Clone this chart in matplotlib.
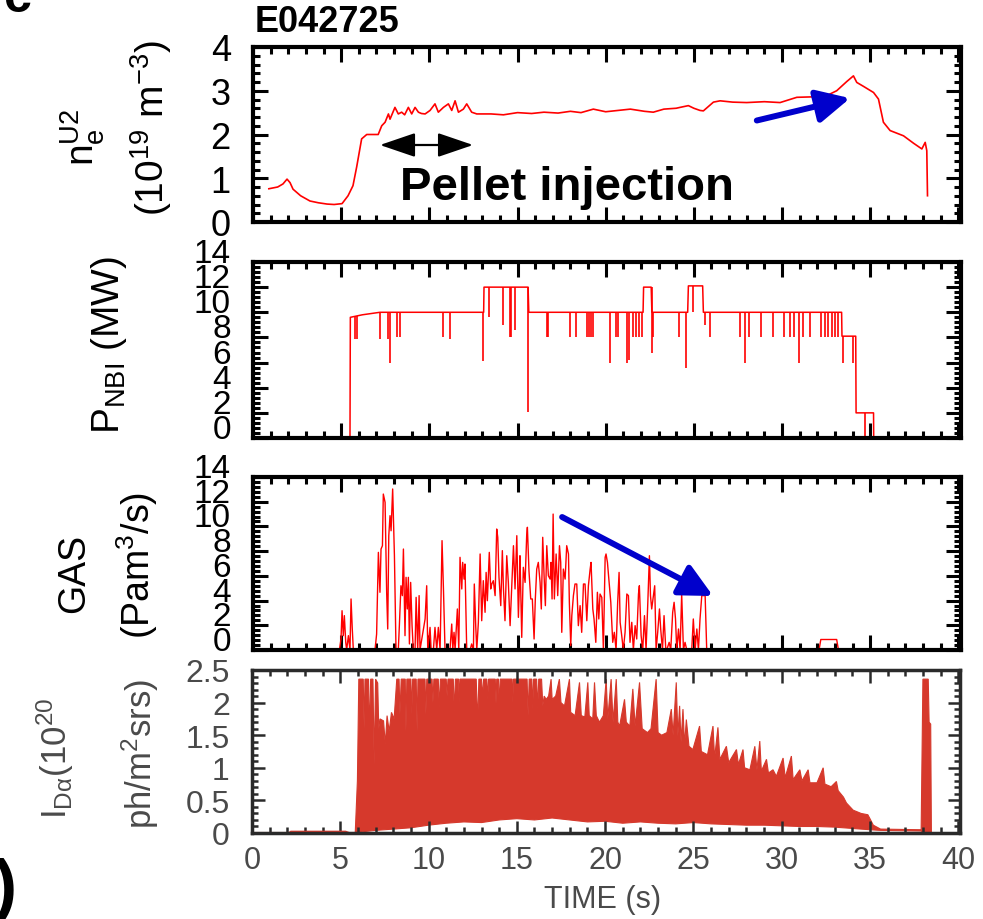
import numpy as np
import matplotlib.pyplot as plt
from matplotlib.ticker import MultipleLocator, AutoMinorLocator

plt.rcParams['font.family'] = ['Liberation Sans', 'DejaVu Sans']
plt.rcParams['mathtext.fontset'] = 'custom'
plt.rcParams['mathtext.rm'] = 'Liberation Sans'
plt.rcParams['mathtext.it'] = 'Liberation Sans:italic'
plt.rcParams['mathtext.bf'] = 'Liberation Sans:bold'
plt.rcParams['mathtext.default'] = 'regular'

############ data (time in s) ############
shot = 'E042725'

# line-averaged density, 1e19 m^-3
ne_points = [(0.9, 0.76), (1.4, 0.8), (1.7, 0.87), (1.93, 0.98), (2.1, 0.9), (2.27, 0.75),
             (2.7, 0.6), (3.23, 0.48), (3.7, 0.44), (4.2, 0.41), (4.6, 0.40), (5.05, 0.42),
             (5.39, 0.6), (5.67, 0.83), (5.88, 1.26), (6.16, 1.9), (6.45, 2.0), (7.1, 2.0),
             (7.3, 2.2), (7.49, 2.28), (7.68, 2.47), (7.77, 2.35), (8.05, 2.62), (8.24, 2.47),
             (8.43, 2.51), (8.6, 2.45), (8.81, 2.62), (9.0, 2.47), (9.19, 2.62), (9.38, 2.51),
             (9.55, 2.48), (9.76, 2.47), (10.04, 2.55), (10.32, 2.70), (10.51, 2.51), (10.8, 2.62),
             (11.08, 2.70), (11.27, 2.55), (11.46, 2.77), (11.65, 2.51), (11.93, 2.58), (12.12, 2.70),
             (12.4, 2.51), (12.69, 2.47), (13.5, 2.47), (14.2, 2.45), (15.0, 2.5), (15.8, 2.48),
             (16.5, 2.51), (17.3, 2.49), (18.0, 2.53), (18.6, 2.5), (19.3, 2.58), (20.0, 2.52),
             (20.7, 2.55), (21.4, 2.58), (22.2, 2.53), (22.7, 2.51), (23.3, 2.58), (24.0, 2.6),
             (24.22, 2.62), (24.69, 2.66), (25.0, 2.6), (25.35, 2.55), (25.54, 2.54), (26.11, 2.74),
             (26.49, 2.77), (27.2, 2.74), (28.0, 2.73), (29.0, 2.75), (29.89, 2.73), (30.84, 2.85),
             (31.7, 2.86), (32.54, 2.89), (33.1, 3.0), (33.67, 3.21), (34.05, 3.34), (34.24, 3.19),
             (34.62, 3.1), (35.19, 2.96), (35.47, 2.81), (35.75, 2.28), (36.13, 2.09), (36.89, 1.97),
             (37.46, 1.8), (37.93, 1.67), (38.12, 1.82), (38.21, 1.63), (38.25, 0.6)]

# NBI power, MW: base steps and the short drop-outs (time, bottom, top)
nbi_points = [(0, 0), (5.5, 0), (5.52, 9.6), (6.2, 9.8), (7.2, 10.0), (13.08, 10.0), (13.1, 12.0),
              (15.6, 12.0), (15.64, 10.0), (22.12, 10.0), (22.15, 12.0), (22.58, 12.0), (22.62, 10.0),
              (24.65, 10.0), (24.69, 12.1), (25.5, 12.1), (25.54, 10.0), (33.38, 10.0), (33.4, 8.1),
              (34.18, 8.1), (34.2, 2.0), (35.19, 2.0), (35.2, 0), (40.5, 0)]
nbi_dips = [(5.79, 7.9, 9.7), (5.88, 7.9, 9.7), (7.2, 7.9, 10), (7.67, 7.9, 10), (7.77, 6.0, 10),
            (8.15, 8.0, 10), (8.34, 8.0, 10), (10.8, 8.0, 10), (11.2, 7.9, 10), (13.03, 6.1, 10),
            (13.41, 9.6, 12), (14.16, 9.0, 12), (14.58, 8.0, 12), (14.63, 8.0, 12), (14.86, 8.6, 12),
            (15.62, 2.1, 12), (16.67, 8.0, 10), (16.75, 8.0, 10), (17.98, 8.0, 10), (18.32, 8.0, 10),
            (18.96, 8.0, 10), (19.05, 8.0, 10), (19.15, 8.0, 10), (19.3, 8.0, 10), (20.25, 6.0, 10),
            (20.6, 8.0, 10), (20.7, 8.0, 10), (21.2, 6.0, 10), (21.35, 6.2, 10), (21.53, 8.0, 10),
            (21.72, 8.0, 10), (21.91, 8.0, 10), (22.05, 8.0, 10), (22.61, 6.8, 12), (22.71, 8.0, 10),
            (24.18, 8.0, 10), (24.56, 5.6, 10), (24.98, 10.0, 12.1), (25.64, 9.0, 10), (25.92, 8.0, 10),
            (27.59, 8.0, 10), (27.91, 6.0, 10), (28.15, 8.0, 10), (28.8, 8.0, 10), (29.51, 8.0, 10),
            (30.12, 8.0, 10), (30.46, 8.0, 10), (30.69, 8.0, 10), (30.99, 6.0, 10), (31.18, 8.0, 10),
            (31.59, 8.0, 10), (32.2, 8.0, 10), (32.44, 8.0, 10), (32.63, 8.0, 10), (32.82, 8.0, 10),
            (33.01, 8.0, 10), (33.2, 8.0, 10), (33.45, 6.0, 8.1), (34.01, 6.0, 8.1), (34.71, 0.0, 2.0)]

# gas puff rate, Pa m^3/s
gas_points = [(4.9, 0), (4.99, 0.89), (5.05, 3.18), (5.12, 1.16), (5.18, 2.78), (5.26, 0.62), (5.31, 0),
              (5.41, 1.16), (5.5, 0), (5.56, 4.13), (5.63, 1.7), (5.69, 0), (6.92, 0), (7.01, 1.29),
              (7.11, 7.9), (7.2, 4.67), (7.26, 8.17), (7.34, 8.44), (7.39, 12.62), (7.49, 11.95),
              (7.58, 4.67), (7.64, 1.7), (7.7, 9.25), (7.77, 10.87), (7.83, 9.65), (7.92, 13.03),
              (8.02, 7.63), (8.11, 0), (8.24, 0), (8.3, 1.97), (8.39, 5.2), (8.47, 4.4), (8.53, 8.17),
              (8.62, 1.16), (8.68, 5.88), (8.75, 3.32), (8.81, 5.88), (8.87, 0.49), (8.94, 5.47),
              (9.02, 1.97), (9.09, 0), (9.19, 0), (9.25, 4.26), (9.34, 0), (9.42, 4.4), (9.47, 0),
              (9.76, 2.51), (9.85, 5.2), (9.91, 0), (10.04, 1.83), (10.1, 0), (10.23, 0), (10.32, 1.83),
              (10.42, 0), (10.51, 1.83), (10.61, 0), (10.72, 8.85), (10.8, 4.94), (10.89, 0), (11.17, 0),
              (11.27, 2.1), (11.33, 0), (11.4, 1.43), (11.46, 0), (11.59, 3.32), (11.67, 0), (11.74, 7.5),
              (11.84, 4.94), (11.89, 7.09), (11.97, 5.74), (12.02, 6.96), (12.12, 0), (12.31, 0),
              (12.4, 0.49), (12.5, 0), (12.55, 5.34), (12.63, 1.97), (12.69, 0), (12.78, 2.24),
              (12.88, 7.77), (12.97, 2.37), (13.06, 5.61), (13.16, 3.05), (13.22, 6.28), (13.29, 3.99),
              (13.4, 7.9), (13.48, 4.94), (13.54, 5.34), (13.63, 5.61), (13.73, 4.4), (13.82, 9.79),
              (13.88, 9.12), (13.95, 5.88), (14.05, 3.59), (14.14, 8.04), (14.2, 5.07), (14.29, 2.37),
              (14.39, 7.63), (14.48, 5.47), (14.58, 1.97), (14.67, 4.94), (14.77, 8.44), (14.86, 4.94),
              (14.96, 9.25), (15.05, 2.64), (15.11, 5.47), (15.14, 7.63), (15.24, 1.02), (15.33, 6.69),
              (15.43, 5.47), (15.52, 9.25), (15.56, 9.93), (15.65, 6.4), (15.75, 4.13), (15.84, 4.13),
              (15.94, 0.89), (16.01, 4.13), (16.09, 6.55), (16.18, 7.09), (16.28, 5.47), (16.35, 3.32),
              (16.43, 9.12), (16.51, 5.88), (16.58, 3.59), (16.66, 8.44), (16.75, 6.01), (16.85, 5.74),
              (16.9, 7.09), (16.96, 4.13), (17.02, 11.0), (17.09, 4.13), (17.19, 7.77), (17.28, 4.4),
              (17.38, 8.44), (17.45, 7.09), (17.51, 1.43), (17.6, 6.55), (17.7, 5.74), (17.79, 8.44),
              (17.89, 7.77), (17.94, 3.86), (18.02, 0.35), (18.08, 2.78), (18.17, 4.4), (18.26, 5.34),
              (18.36, 5.34), (18.45, 1.97), (18.55, 3.59), (18.64, 1.43), (18.74, 5.34), (18.83, 5.34),
              (18.93, 2.37), (19.02, 5.2), (19.12, 6.55), (19.17, 7.09), (19.27, 3.32), (19.34, 2.51),
              (19.44, 0.62), (19.53, 4.67), (19.61, 2.51), (19.68, 4.53), (19.78, 4.26), (19.87, 0),
              (19.97, 7.5), (20.02, 7.77), (20.1, 7.09), (20.21, 5.2), (20.29, 3.86), (20.4, 0.62),
              (20.49, 1.43), (20.59, 0), (20.68, 3.86), (20.76, 6.28), (20.82, 2.24), (20.91, 1.16),
              (21.0, 0), (21.1, 1.43), (21.2, 4.53), (21.29, 4.4), (21.38, 0.62), (21.48, 2.24),
              (21.57, 0), (21.67, 1.97), (21.76, 0.89), (21.86, 4.53), (21.91, 5.2), (22.01, 1.16),
              (22.1, 0), (22.2, 2.78), (22.29, 0), (22.39, 3.86), (22.48, 7.63), (22.54, 4.4),
              (22.61, 3.32), (22.71, 4.4), (22.78, 5.2), (22.86, 0), (22.95, 1.43), (23.05, 3.32),
              (23.12, 1.7), (23.22, 0), (23.31, 2.78), (23.41, 0), (23.46, 0), (23.6, 0.62), (23.69, 0),
              (23.8, 3.05), (23.88, 3.86), (23.96, 2.51), (24.03, 0), (24.13, 1.7), (24.22, 0),
              (24.31, 4.53), (24.41, 0), (24.5, 0.62), (24.6, 0), (24.69, 0), (24.88, 0), (24.97, 2.51),
              (25.07, 0), (25.17, 1.7), (25.26, 0), (25.35, 2.51), (25.45, 4.4), (25.54, 4.4),
              (25.64, 4.4), (25.73, 0), (26.02, 0)]
gas_late_points = [(32.1, 0), (32.2, 0.85), (33.1, 0.85), (33.2, 0)]

# D-alpha, 1e20 ph/m^2 sr s: spiky top edge and baseline of the band
da_top_points = [(5.85, 0.02), (5.97, 0.8), (6.05, 2.36), (6.3, 2.36), (6.35, 1.6), (6.4, 2.36),
                 (6.6, 2.36), (6.65, 1.5), (6.72, 2.36), (6.85, 2.36), (6.92, 1.05), (7.0, 2.36),
                 (7.12, 2.3), (7.18, 1.6), (7.25, 1.75), (7.45, 1.72), (7.55, 1.36), (7.65, 1.8),
                 (7.77, 1.56), (7.9, 1.85), (8.05, 1.75), (8.2, 2.36), (8.33, 2.36), (8.38, 1.82),
                 (8.45, 2.36), (8.68, 2.36), (8.72, 1.56), (8.77, 2.36), (9.0, 2.36), (9.05, 1.82),
                 (9.1, 2.36), (9.3, 2.36), (9.35, 1.56), (9.4, 2.36), (9.8, 2.36), (9.85, 1.82),
                 (9.9, 2.36), (10.2, 2.36), (10.25, 2.0), (10.3, 2.36), (10.55, 2.36), (10.61, 1.92),
                 (10.67, 2.36), (11.0, 2.36), (11.05, 2.1), (11.1, 2.36), (11.4, 2.36), (11.46, 1.85),
                 (11.52, 2.36), (11.7, 2.36), (11.74, 2.0), (11.78, 2.36), (12.7, 2.36), (12.78, 1.69),
                 (12.85, 2.36), (13.0, 2.36), (13.06, 2.08), (13.12, 2.36), (13.3, 2.36), (13.35, 2.05),
                 (13.4, 2.36), (13.78, 2.36), (13.82, 1.98), (13.86, 2.36), (13.96, 2.36), (14.01, 1.95),
                 (14.06, 2.36), (14.73, 2.36), (14.77, 2.0), (14.81, 2.36), (15.58, 2.36), (15.64, 1.80),
                 (15.7, 2.36), (15.85, 2.36), (15.9, 1.9), (15.95, 2.36), (16.12, 2.36), (16.18, 1.9),
                 (16.24, 2.36), (16.4, 2.36), (16.47, 1.95), (16.55, 2.1), (16.66, 2.05), (16.8, 2.1),
                 (16.94, 2.36), (17.0, 2.05), (17.2, 2.1), (17.41, 2.36), (17.5, 2.0), (17.7, 1.95),
                 (17.98, 2.36), (18.05, 1.85), (18.3, 1.8), (18.55, 2.31), (18.65, 1.8), (18.85, 1.78),
                 (19.02, 2.31), (19.1, 1.8), (19.3, 1.75), (19.4, 2.31), (19.5, 1.8), (19.68, 1.7),
                 (19.9, 1.8), (20.06, 2.36), (20.15, 1.75), (20.34, 2.36), (20.45, 1.7), (20.63, 2.36),
                 (20.72, 1.7), (20.82, 1.64), (21.1, 2.05), (21.2, 1.7), (21.4, 1.64), (21.57, 2.21),
                 (21.7, 1.64), (21.95, 2.31), (22.1, 1.6), (22.4, 1.54), (22.6, 1.6), (22.89, 2.36),
                 (23.0, 1.54), (23.2, 1.5), (23.5, 1.54), (23.75, 1.9), (23.85, 1.5), (24.03, 2.31),
                 (24.12, 1.49), (24.22, 1.95), (24.3, 1.4), (24.41, 1.9), (24.5, 1.35), (24.6, 1.74),
                 (24.75, 1.33), (24.97, 1.28), (25.35, 1.64), (25.45, 1.25), (25.8, 1.2), (26.11, 1.64),
                 (26.2, 1.15), (26.39, 1.62), (26.5, 1.13), (26.87, 1.33), (27.0, 1.08), (27.44, 1.28),
                 (27.55, 1.05), (27.81, 1.28), (27.9, 1.0), (28.2, 0.97), (28.48, 1.33), (28.6, 0.97),
                 (28.76, 1.41), (28.85, 0.95), (29.14, 1.13), (29.25, 0.92), (29.51, 0.97), (29.7, 0.87),
                 (30.08, 1.15), (30.2, 0.85), (30.55, 1.18), (30.65, 0.82), (31.03, 0.97), (31.15, 0.80),
                 (31.5, 0.97), (31.6, 0.77), (32.0, 0.77), (32.35, 1.0), (32.45, 0.75), (32.8, 0.71),
                 (33.1, 0.79), (33.2, 0.65), (33.5, 0.55), (33.67, 0.46), (34.05, 0.35), (34.5, 0.30),
                 (34.88, 0.28), (35.0, 0.22), (35.19, 0.12), (35.6, 0.06), (37.9, 0.05), (38.0, 2.36),
                 (38.3, 2.36), (38.35, 1.7), (38.44, 1.67), (38.48, 0.0)]
da_low_points = [(5.85, 0.0), (6.3, 0.02), (7, 0.04), (8, 0.06), (9, 0.08), (10, 0.12), (11, 0.15),
                 (12, 0.17), (13, 0.16), (14, 0.2), (15, 0.22), (16, 0.2), (17, 0.23), (18, 0.2),
                 (19, 0.17), (20, 0.18), (21, 0.15), (22, 0.17), (23, 0.15), (24, 0.14), (25, 0.16),
                 (26, 0.14), (27, 0.13), (28, 0.12), (29, 0.12), (30, 0.11), (31, 0.1), (32, 0.1),
                 (33, 0.09), (34, 0.07), (35, 0.05), (35.6, 0.04), (37.9, 0.03), (38.0, 0.0), (38.48, 0.0)]
da_pre_points = [(0, 0), (2.1, 0), (2.2, 0.02), (5.3, 0.02), (5.5, 0), (5.85, 0)]

ne_ticks = [0, 1, 2, 3, 4]
nbi_ticks = [0, 2, 4, 6, 8, 10, 12, 14]
gas_ticks = [0, 2, 4, 6, 8, 10, 12, 14]
da_ticks = [0, 0.5, 1, 1.5, 2, 2.5]
da_tick_labels = ['0', '0.5', '1', '1.5', '2', '2.5']
time_ticks = [0, 5, 10, 15, 20, 25, 30, 35, 40]
##############################################################

RED = '#ff0000'
DCOL = '#d6392c'
GREY = '#4a4a4a'
BLUE = '#0000cc'

W, H = 983, 920
fig = plt.figure(figsize=(W / 100, H / 100), dpi=100)


def rect(l, t, r, b):
    return [l / W, 1 - b / H, (r - l) / W, (b - t) / H]


ax1 = fig.add_axes(rect(253, 48, 961, 223))
ax2 = fig.add_axes(rect(253, 263, 961, 439))
ax3 = fig.add_axes(rect(253, 478, 961, 651))
ax4 = fig.add_axes(rect(252, 671, 960, 834))


def style(ax, color='black', lw=3.0, tw=2.2, maj=10.5, mnr=5):
    ax.set_xlim(0, 40.15)
    ax.set_xticks(time_ticks)
    ax.xaxis.set_minor_locator(AutoMinorLocator(5))
    ax.yaxis.set_minor_locator(AutoMinorLocator(5))
    ax.tick_params(which='both', direction='in', top=True, right=True, width=tw, color=color,
                   labelcolor=color)
    ax.tick_params(which='major', length=maj, pad=16)
    ax.tick_params(which='minor', length=mnr)
    for s in ax.spines.values():
        s.set_linewidth(lw)
        s.set_edgecolor(color)


# --- density
t, v = np.array(ne_points).T
ax1.plot(t, v, color=RED, lw=1.2)
ax1.set_ylim(0, 4)
ax1.set_yticks(ne_ticks, [str(x) for x in ne_ticks], fontsize=26)
style(ax1)
ax1.tick_params(labelbottom=False)
ax1.annotate('', xy=(12.48, 1.76), xytext=(7.2, 1.76),
             arrowprops=dict(arrowstyle='<|-|>,head_length=2.2,head_width=0.75', mutation_scale=10,
                             lw=1.6, color='black', shrinkA=0, shrinkB=0))
ax1.text(8.34, 0.53, 'Pellet injection', fontsize=34, fontweight='bold', ha='left', va='baseline')
ax1.annotate('', xy=(33.86, 2.83), xytext=(28.57, 2.32),
             arrowprops=dict(arrowstyle='-|>,head_length=2.0,head_width=1.0', mutation_scale=10,
                             lw=4.3, color=BLUE, shrinkA=0, shrinkB=0))

# --- NBI
t, v = np.array(nbi_points).T
ax2.plot(t, v, color=RED, lw=1.1)
dt, dlo, dhi = np.array(nbi_dips).T
ax2.vlines(dt, dlo, dhi, color=RED, lw=1.2)
ax2.set_ylim(0, 14)
ax2.set_yticks(nbi_ticks, [str(x) for x in nbi_ticks], fontsize=24, va='baseline')
style(ax2)
ax2.tick_params(labelbottom=False)

# --- gas
t, v = np.array(gas_points).T
ax3.plot(t, v, color=RED, lw=1.0)
t, v = np.array(gas_late_points).T
ax3.plot(t, v, color=RED, lw=1.0)
ax3.set_ylim(0, 14)
ax3.set_yticks(gas_ticks, [str(x) for x in gas_ticks], fontsize=24, va='baseline')
style(ax3)
ax3.tick_params(labelbottom=False)
ax3.annotate('', xy=(26.09, 4.37), xytext=(17.53, 10.76),
             arrowprops=dict(arrowstyle='-|>,head_length=2.0,head_width=1.0', mutation_scale=10,
                             lw=4.3, color=BLUE, shrinkA=0, shrinkB=0), annotation_clip=False)

# --- D alpha
tt, tv = np.array(da_top_points).T
lt, lv = np.array(da_low_points).T
ax4.fill(np.concatenate([tt, lt[::-1]]), np.concatenate([tv, lv[::-1]]),
         facecolor=DCOL, edgecolor=DCOL, lw=0.8)
t, v = np.array(da_pre_points).T
ax4.plot(t, v, color=DCOL, lw=1.5)
ax4.set_ylim(0, 2.5)
ax4.set_yticks(da_ticks, da_tick_labels, fontsize=23)
style(ax4, color='#2a2a2a', lw=2.5, tw=1.8, maj=9, mnr=4.5)
ax4.set_xlim(0, 40.1)
ax4.tick_params(labelcolor=GREY)
ax4.set_xticks(time_ticks, [str(x) for x in time_ticks], fontsize=22)
ax4.tick_params(axis='x', which='major', pad=9)

# --- labels
fig.text(255 / W, 1 - 23 / H, shot, fontsize=26, fontweight='bold', ha='left', va='center')
fig.text(83 / W, 1 - 137 / H, r'n$_e^{U2}$', rotation=90, ha='center', va='center', fontsize=28)
fig.text(151 / W, 1 - 128 / H, r'(10$^{19}$ m$^{-3}$)', rotation=90, ha='center', va='center',
         fontsize=28)
fig.text(109 / W, 1 - 345 / H, r'P$_{NBI}$ (MW)', rotation=90, ha='center', va='center', fontsize=28)
fig.text(74 / W, 1 - 573 / H, 'GAS', rotation=90, ha='center', va='center', fontsize=27)
fig.text(137 / W, 1 - 565 / H, r'(Pam$^3$/s)', rotation=90, ha='center', va='center', fontsize=27)
fig.text(55 / W, 1 - 758 / H, r'I$_{Dα}$(10$^{20}$', rotation=90, ha='center', va='center',
         fontsize=25, color=GREY)
fig.text(140 / W, 1 - 754 / H, r'ph/m$^2$srs)', rotation=90, ha='center', va='center',
         fontsize=25, color=GREY)
fig.text(603 / W, 1 - 900 / H, 'TIME (s)', ha='center', va='center', fontsize=22, color=GREY)

# cropped pieces of the neighbouring panel label
fig.text(-6 / W, 1 - 890 / H, ')', fontsize=50, fontweight='bold', ha='left', va='center')
fig.text(4 / W, 1 - 12 / H, 'c', fontsize=36, fontweight='bold', ha='left', va='baseline')

fig.savefig('out.png', dpi=100)
